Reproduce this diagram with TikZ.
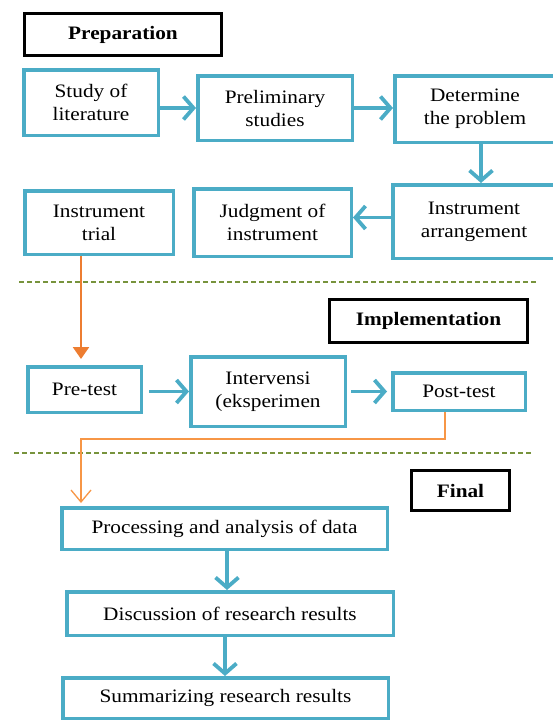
\documentclass[tikz,border=0pt]{standalone}
\usepackage{fontspec}
\setmainfont[FakeStretch=1.12]{Liberation Serif}
\usetikzlibrary{calc,arrows.meta}

\definecolor{boxblue}{HTML}{4BACC6}
\definecolor{dashgreen}{HTML}{77933C}
\definecolor{darkorange}{HTML}{ED7D31}
\definecolor{lightorange}{HTML}{F79646}

\begin{document}
\begin{tikzpicture}[x=1pt,y=-1pt,
    stepbox/.style={draw=boxblue,line width=3.5pt,align=center,inner sep=2pt,
      font=\fontsize{19}{23}\selectfont},
    phasebox/.style={draw=black,line width=3pt,inner sep=2pt,
      font=\fontsize{19}{23}\selectfont\bfseries},
    bluearrow/.style={draw=boxblue,line width=3.8pt,-{Straight Barb[length=10pt,width=23pt]}},
    divider/.style={draw=dashgreen,line width=1.5pt,dash pattern=on 5pt off 3pt}]
        % page size of the reference
        \clip (0,0) rectangle (553,720);

        % phase 1
        \node (prep) [phasebox,minimum width=197,minimum height=42] at (123,34.5) {Preparation};
        \node (study) [stepbox,minimum width=134.5,minimum height=65.5] at (91,102.5) {Study of\\literature};
        \node (prelim) [stepbox,minimum width=154.5,minimum height=64.5] at (275,108) {Preliminary\\studies};
        \node (determ) [stepbox,minimum width=160.5,minimum height=66.5] at (475,109) {Determine\\the problem};
        \node (arrange) [stepbox,minimum width=162.5,minimum height=73.5] at (474,221.5) {Instrument\\arrangement};
        \node (judge) [stepbox,minimum width=157.5,minimum height=67.5] at (272.5,222.5) {Judgment of\\instrument};
        \node (trial) [stepbox,minimum width=148.5,minimum height=63.5] at (99,222.5) {Instrument\\trial};

        \draw [bluearrow] (study.east |- prelim) -- (prelim.west);
        \draw [bluearrow] (prelim.east) -- (determ.west |- prelim);
        \coordinate (dn) at ($(determ.south)+(6,0)$);
        \draw [bluearrow] (dn) -- (dn |- arrange.north);
        \coordinate (aj) at ($(arrange.west)+(0,-4)$);
        \draw [bluearrow] (aj) -- (aj -| judge.east);

        \draw [divider] (19,282) coordinate (lineA) -- (537,282) coordinate (lineB);

        % phase 2
        \node (impl) [phasebox,minimum width=198,minimum height=43] at (428.5,321) {Implementation};
        \node (pretest) [stepbox,minimum width=113.5,minimum height=45.5] at (84.5,389.5) {Pre-test};
        \node (interv) [stepbox,minimum width=154.5,minimum height=69.5] at (268,391.5) {Intervensi\\(eksperimen};
        \node (posttest) [stepbox,minimum width=132.5,minimum height=37.5] at (459,391.5) {Post-test};

        \coordinate (tr) at ($(trial.south)+(-18,0)$);
        \draw [darkorange,line width=2.5pt,-{Triangle[length=12pt,width=16pt]},shorten >=6pt]
          (tr) -- (tr |- pretest.north);
        \draw [bluearrow,shorten <=6pt] (pretest.east |- interv) -- (interv.west);
        \draw [bluearrow,shorten <=4pt,shorten >=4pt] (interv.east |- posttest) -- (posttest.west);

        \draw [divider] (14,453) coordinate (lineC) -- (532,453) coordinate (lineD);

        % phase 3
        \node (final) [phasebox,minimum width=98,minimum height=40] at (460.5,490.5) {Final};
        \node (process) [stepbox,minimum width=325.5,minimum height=41.5] at (224.5,528.5) {Processing and analysis of data};
        \node (discuss) [stepbox,minimum width=326.5,minimum height=43.5] at (230,613.5) {Discussion of research results};
        \node (summ) [stepbox,minimum width=325.5,minimum height=40.5] at (225.5,698) {Summarizing research results};

        \coordinate (ps) at ($(posttest.south)+(-14,0)$);
        \coordinate (turn) at (81,439);
        \draw [draw=lightorange,line width=1.3pt,-{Straight Barb[length=12pt,width=20pt]},shorten >=3pt]
          (ps) |- (turn) -- (turn |- process.north);

        \draw [bluearrow] (process.south -| 227,0) -- (discuss.north -| 227,0);
        \draw [bluearrow] (discuss.south -| 225,0) -- (summ.north -| 225,0);
    \end{tikzpicture}
\end{document}
